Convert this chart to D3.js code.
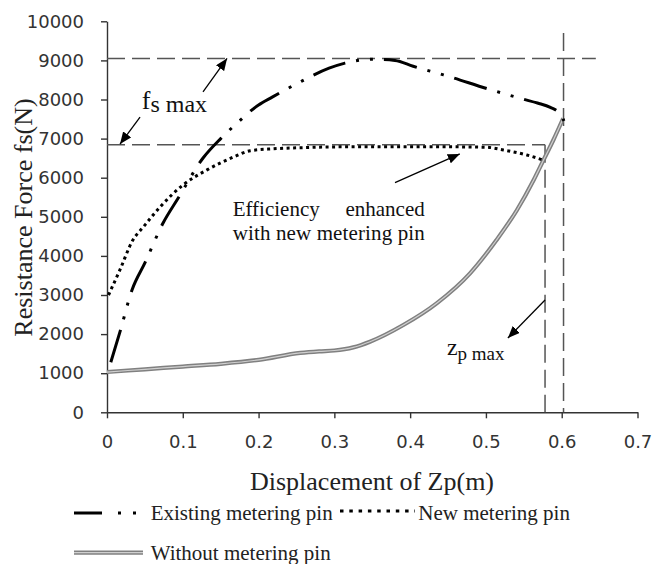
<!DOCTYPE html>
<html>
<head>
<meta charset="utf-8">
<script src="https://cdn.jsdelivr.net/npm/d3@7"></script>
<style>
  html, body { margin: 0; padding: 0; background: #fff; }
  svg { display: block; }
</style>
</head>
<body>
<script>
// ---------- data ----------
const xTicks = [0, 0.1, 0.2, 0.3, 0.4, 0.5, 0.6, 0.7];
const yTicks = [0, 1000, 2000, 3000, 4000, 5000, 6000, 7000, 8000, 9000, 10000];

const existingX = [0.005, 0.017, 0.033, 0.05, 0.074, 0.094, 0.127, 0.15, 0.169, 0.2, 0.218, 0.257, 0.293, 0.314, 0.35, 0.38, 0.404, 0.444, 0.508, 0.549, 0.568, 0.585, 0.597, 0.603];
const existingY = [1280, 2050, 3130, 3820, 4840, 5480, 6510, 7000, 7350, 7860, 8060, 8470, 8800, 8930, 9030, 9000, 8850, 8630, 8240, 8010, 7910, 7800, 7650, 7450];

const newX = [0.002, 0.017, 0.034, 0.048, 0.07, 0.1, 0.132, 0.167, 0.189, 0.22, 0.26, 0.315, 0.38, 0.44, 0.5, 0.523, 0.554, 0.578];
const newY = [3000, 3640, 4400, 4740, 5250, 5810, 6200, 6530, 6690, 6740, 6770, 6790, 6790, 6790, 6780, 6710, 6580, 6435];

const withoutX = [0, 0.05, 0.1, 0.15, 0.2, 0.255, 0.28, 0.3, 0.325, 0.347, 0.391, 0.435, 0.479, 0.514, 0.541, 0.563, 0.576, 0.589, 0.602];
const withoutY = [1030, 1100, 1170, 1240, 1340, 1520, 1560, 1580, 1660, 1806, 2233, 2788, 3555, 4407, 5174, 5941, 6453, 6964, 7520];

// reference (guide) dashed lines in data units
const guideX1 = [0, 0, 0.578, 0.6024];
const guideY1 = [9050, 6840, 6840, 9700];
const guideX2 = [0.645, 0.578, 0.578, 0.6024];
const guideY2 = [9050, 6840, 0, 0];

// annotation arrows (from -> tip) in data units
const arrowFromX = [0.1267, 0.0436, 0.380, 0.578];
const arrowFromY = [8192, 7552, 5875, 2872];
const arrowToX = [0.1584, 0.0172, 0.4655, 0.529];
const arrowToY = [9050, 6860, 6609, 1900];

const legendLabels = ["Existing metering pin", "New metering pin", "Without metering pin"];
const xTitle = "Displacement of Zp(m)";
const yTitle = "Resistance Force fs(N)";

// ---------- layout ----------
const W = 654, H = 564;
const svg = d3.select("body").append("svg").attr("width", W).attr("height", H);

const x = d3.scaleLinear().domain([0, 0.7]).range([107, 637.5]);
const y = d3.scaleLinear().domain([0, 10000]).range([412.3, 21.3]);

const serif = "'Liberation Serif', 'Times New Roman', serif";
const sans = "'DejaVu Sans', Verdana, sans-serif";

// axes
const yAxis = d3.axisLeft(y).tickValues(yTicks).tickSize(6).tickSizeOuter(0).tickPadding(17).tickFormat(d3.format("d"));
const xAxis = d3.axisBottom(x).tickValues(xTicks).tickSize(6).tickSizeOuter(0).tickPadding(17).tickFormat(d => d === 0 ? "0" : d3.format(".1f")(d));

const gy = svg.append("g").attr("transform", `translate(${x(0)},0)`).call(yAxis);
const gx = svg.append("g").attr("transform", `translate(0,${y(0)})`).call(xAxis);
[gx, gy].forEach(g => {
  g.selectAll("path.domain").attr("stroke", "#333").attr("stroke-width", 1.4);
  g.selectAll(".tick line").attr("stroke", "#333").attr("stroke-width", 1.4);
  g.selectAll(".tick text").attr("fill", "#333").style("font-family", sans).style("font-size", "18px");
});

// guide dashed lines
const guides = d3.range(guideX1.length);
svg.append("g").selectAll("line").data(guides).join("line")
  .attr("x1", i => x(guideX1[i])).attr("y1", i => y(guideY1[i]))
  .attr("x2", i => x(guideX2[i])).attr("y2", i => y(guideY2[i]))
  .attr("stroke", "#555").attr("stroke-width", 1.5)
  .attr("stroke-dasharray", "18 7");

// curves
const line = d3.line().curve(d3.curveMonotoneX).x(d => x(d[0])).y(d => y(d[1]));
const withoutPts = withoutX.map((v, i) => [v, withoutY[i]]);
const newPts = newX.map((v, i) => [v, newY[i]]);
const existingPts = existingX.map((v, i) => [v, existingY[i]]);

svg.append("path").attr("d", line(withoutPts)).attr("fill", "none")
  .attr("stroke", "#808080").attr("stroke-width", 4.2);
svg.append("path").attr("d", line(withoutPts)).attr("fill", "none")
  .attr("stroke", "#d0d0d0").attr("stroke-width", 1.2);

svg.append("path").attr("d", line(newPts)).attr("fill", "none")
  .attr("stroke", "#000").attr("stroke-width", 3)
  .attr("stroke-dasharray", "3 3.5");

svg.append("path").attr("d", line(existingPts)).attr("fill", "none")
  .attr("stroke", "#000").attr("stroke-width", 3)
  .attr("stroke-dasharray", "34 11 3 11 3 11");

// arrow marker
svg.append("defs").append("marker")
  .attr("id", "ah").attr("markerUnits", "userSpaceOnUse")
  .attr("viewBox", "0 0 12 10").attr("markerWidth", 12).attr("markerHeight", 10)
  .attr("refX", 12).attr("refY", 5).attr("orient", "auto")
  .append("path").attr("d", "M0,0 L12,5 L0,10 Z").attr("fill", "#000");

svg.append("g").selectAll("line").data(d3.range(arrowFromX.length)).join("line")
  .attr("x1", i => x(arrowFromX[i])).attr("y1", i => y(arrowFromY[i]))
  .attr("x2", i => x(arrowToX[i])).attr("y2", i => y(arrowToY[i]))
  .attr("stroke", "#000").attr("stroke-width", 1.3)
  .attr("marker-end", "url(#ah)");

// annotation texts
const fs = svg.append("text").attr("x", x(0.0458)).attr("y", y(7760))
  .style("font-family", serif).attr("fill", "#111");
fs.append("tspan").style("font-size", "26px").text("f");
fs.append("tspan").style("font-size", "24px").attr("dy", 3).text("s max");

const eff = svg.append("g").style("font-family", serif).style("font-size", "21px").attr("fill", "#111");
eff.append("text").attr("x", x(0.1658)).attr("y", y(5020)).text("Efficiency");
eff.append("text").attr("x", x(0.4193)).attr("y", y(5020)).attr("text-anchor", "end").text("enhanced");
eff.append("text").attr("x", x(0.1658)).attr("y", y(4394)).attr("textLength", x(0.4193) - x(0.1658)).text("with new metering pin");

const zp = svg.append("text").attr("x", x(0.4485)).attr("y", y(1460))
  .style("font-family", serif).attr("fill", "#111");
zp.append("tspan").style("font-size", "24px").text("z");
zp.append("tspan").style("font-size", "19px").attr("dy", 5).text("p max");

// axis titles
svg.append("text").attr("x", 372).attr("y", 490).attr("text-anchor", "middle")
  .style("font-family", serif).style("font-size", "26px").attr("fill", "#222").text(xTitle);
svg.append("text").attr("transform", "translate(32,217.5) rotate(-90)").attr("text-anchor", "middle")
  .style("font-family", serif).style("font-size", "26px").attr("fill", "#222").text(yTitle);

// legend
const lg = svg.append("g");
lg.append("line").attr("x1", 74).attr("x2", 142).attr("y1", 513).attr("y2", 513)
  .attr("stroke", "#000").attr("stroke-width", 3).attr("stroke-dasharray", "28 16 3 12 3 12");
lg.append("text").attr("x", 150.7).attr("y", 520).text(legendLabels[0]);
lg.append("line").attr("x1", 340).attr("x2", 415).attr("y1", 511).attr("y2", 511)
  .attr("stroke", "#000").attr("stroke-width", 3).attr("stroke-dasharray", "3.5 5.8");
lg.append("text").attr("x", 418.3).attr("y", 520).text(legendLabels[1]);
lg.append("line").attr("x1", 74).attr("x2", 143).attr("y1", 552.7).attr("y2", 552.7)
  .attr("stroke", "#808080").attr("stroke-width", 4.2);
lg.append("line").attr("x1", 74).attr("x2", 143).attr("y1", 552.7).attr("y2", 552.7)
  .attr("stroke", "#d0d0d0").attr("stroke-width", 1.2);
lg.append("text").attr("x", 150.7).attr("y", 560).text(legendLabels[2]);
lg.selectAll("text").style("font-family", serif).style("font-size", "21px").attr("fill", "#222");
</script>
</body>
</html>
